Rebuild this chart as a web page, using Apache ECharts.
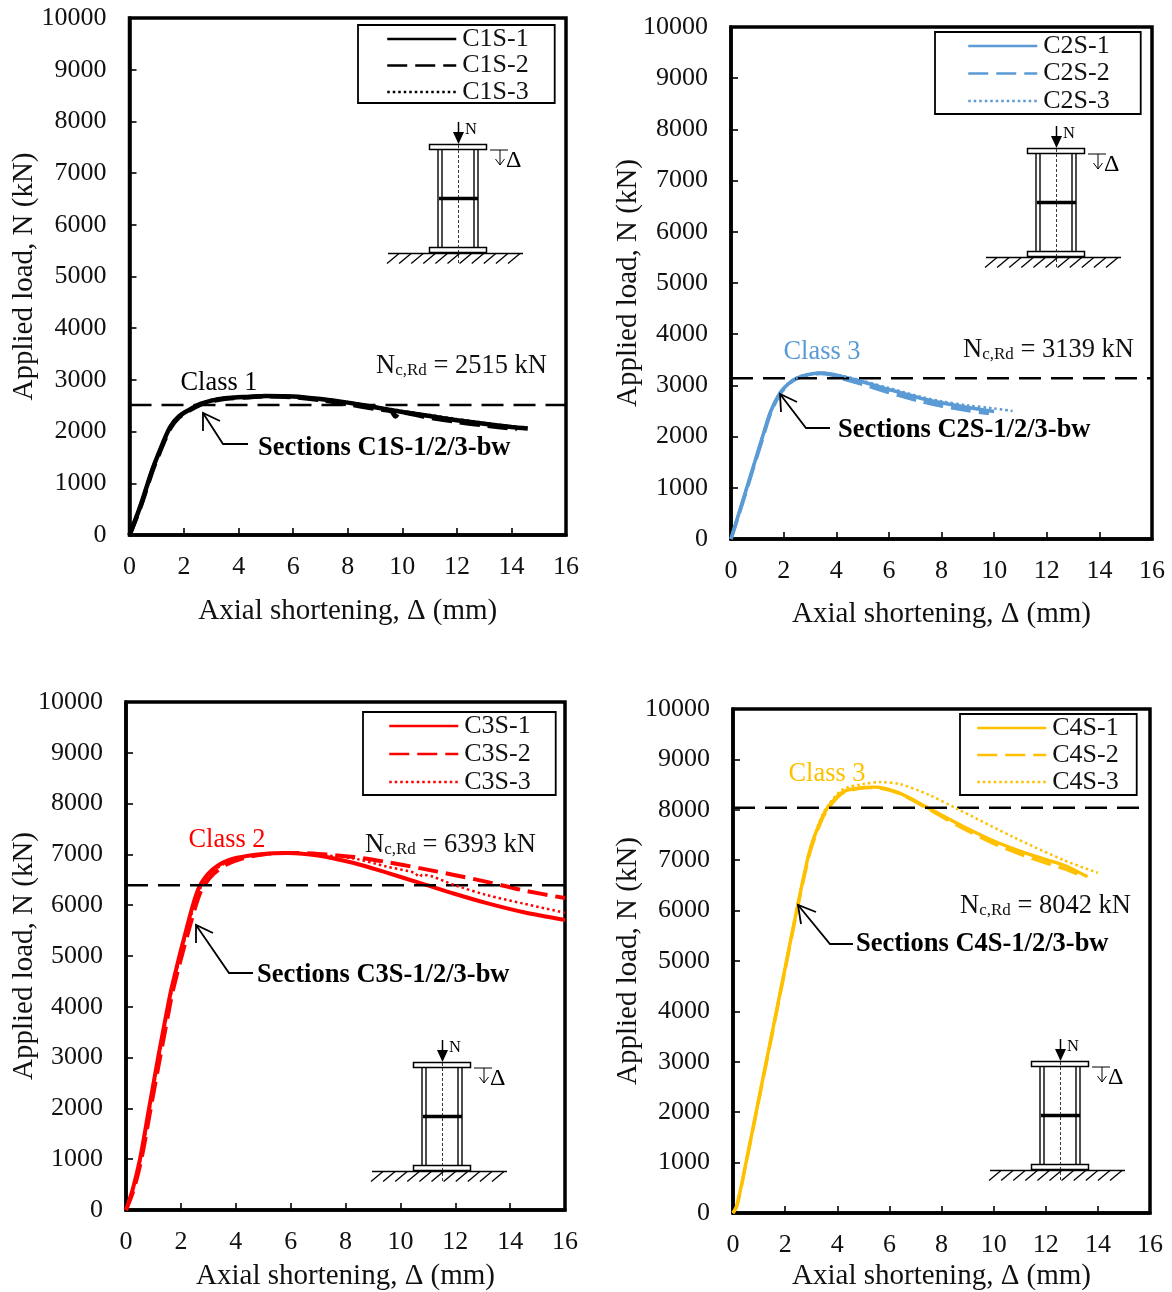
<!DOCTYPE html>
<html><head><meta charset="utf-8">
<style>html,body{margin:0;padding:0;background:#fff}#c{width:1172px;height:1292px}</style>
<script src="https://cdn.jsdelivr.net/npm/echarts@6/dist/echarts.min.js"></script>
</head><body><div id="c"></div>
<script>
const xTicks=[0,2,4,6,8,10,12,14,16];
const yTicks=[0,1000,2000,3000,4000,5000,6000,7000,8000,9000,10000];
const c1s1=[[0,0],[0.4,560],[0.82,1240],[1.1,1620],[1.48,2080],[1.8,2290],[2.2,2425],[2.6,2535],[3,2600],[3.5,2645],[4.4,2675],[5,2690],[6,2680],[7,2630],[8,2560],[9,2470],[10,2380],[11,2300],[12,2220],[13,2150],[14,2090],[14.6,2060]];
const c1s2=[[0,0],[0.4,540],[0.82,1210],[1.1,1590],[1.48,2050],[1.8,2270],[2.2,2410],[2.6,2520],[3,2590],[3.5,2635],[4.4,2665],[5,2685],[6,2665],[7,2610],[8,2530],[9,2440],[9.6,2390],[9.75,2290],[9.9,2370],[11,2270],[12,2190],[13,2120],[14.2,2050]];
const c1s3=[[0,0],[0.4,570],[0.82,1250],[1.1,1630],[1.48,2090],[1.8,2300],[2.2,2435],[2.6,2545],[3,2610],[3.5,2655],[4.4,2680],[5,2695],[6,2685],[7,2640],[8,2570],[9,2485],[10,2400],[11,2320],[12,2240],[13,2170],[14,2100]];
const c2s1=[[0,0],[0.3,500],[0.6,1000],[0.9,1500],[1.2,2000],[1.5,2480],[1.86,2850],[2.2,3040],[2.5,3140],[2.9,3210],[3.4,3240],[3.8,3220],[4.25,3170],[5,3070],[6,2920],[7.2,2750],[8,2660],[9,2570],[10,2490]];
const c2s2=[[0,0],[0.3,480],[0.6,970],[0.9,1470],[1.2,1960],[1.5,2450],[1.86,2830],[2.2,3030],[2.5,3130],[2.9,3200],[3.4,3235],[3.8,3210],[4.25,3130],[5,3020],[6,2860],[7.2,2690],[8,2600],[9,2510],[9.8,2450]];
const c2s3=[[0,0],[0.3,510],[0.6,1010],[0.9,1510],[1.2,2010],[1.5,2490],[1.86,2860],[2.2,3050],[2.5,3150],[2.9,3220],[3.4,3245],[3.8,3230],[4.25,3185],[5,3090],[6,2950],[7.2,2780],[8,2690],[9,2610],[10,2550],[10.7,2500]];
const c3s1=[[0,0],[0.25,420],[0.51,1000],[0.84,2000],[1.17,3000],[1.45,3800],[1.67,4390],[2.26,5650],[2.62,6300],[3,6620],[3.5,6830],[4,6930],[5,7010],[5.9,7030],[7,6980],[8.3,6830],[9.5,6640],[10.7,6440],[12,6220],[13.15,6040],[14.5,5860],[16,5710]];
const c3s2=[[0,0],[0.28,400],[0.56,1000],[0.9,2000],[1.24,3000],[1.52,3800],[1.74,4390],[2.36,5650],[2.75,6300],[3.2,6620],[3.7,6810],[4.3,6930],[5,7000],[5.9,7030],[7,7010],[8.3,6950],[9.5,6850],[10.7,6730],[12,6590],[13.15,6460],[14.5,6290],[16,6140]];
const c3s3=[[0,0],[0.26,410],[0.53,1000],[0.87,2000],[1.2,3000],[1.48,3800],[1.7,4390],[2.3,5650],[2.68,6300],[3.1,6630],[3.6,6820],[4.1,6930],[5,7005],[5.9,7030],[7,6990],[8.3,6920],[9.5,6760],[10.5,6640],[10.7,6560],[10.8,6600],[12,6390],[13.15,6200],[14.5,6030],[16,5850]];
const c4s1=[[0,0],[0.15,150],[0.5,1000],[1,2290],[1.5,3575],[2,4860],[2.5,6150],[2.95,7200],[3.3,7700],[3.6,8020],[4.2,8350],[4.8,8430],[5.4,8450],[6.3,8350],[7.55,8020],[8.8,7680],[10.1,7360],[11.4,7110],[12.7,6900],[13.6,6670]];
const c4s2=[[0,0],[0.15,140],[0.5,990],[1,2270],[1.5,3550],[2,4840],[2.5,6120],[2.95,7150],[3.3,7670],[3.6,7990],[4.2,8330],[4.8,8420],[5.4,8440],[6.3,8340],[7.55,8000],[8.8,7640],[10.1,7310],[11.4,7050],[12.7,6830],[13.4,6690]];
const c4s3=[[0,0],[0.15,160],[0.5,1010],[1,2300],[1.5,3590],[2,4880],[2.5,6170],[2.95,7220],[3.3,7740],[3.6,8050],[4.2,8400],[5,8510],[5.65,8550],[6.4,8510],[7.5,8300],[8.6,8020],[10.75,7460],[12.7,7000],[14,6750]];
const resistance=[2515,3139,6393,8042];
const names=[['C1S-1','C1S-2','C1S-3'],['C2S-1','C2S-2','C2S-3'],['C3S-1','C3S-2','C3S-3'],['C4S-1','C4S-2','C4S-3']];
const curves=[[c1s1,c1s2,c1s3],[c2s1,c2s2,c2s3],[c3s1,c3s2,c3s3],[c4s1,c4s2,c4s3]];
const colors=['#000000','#5B9BD5','#FF0000','#FFC000'];
const classes=['Class 1','Class 3','Class 2','Class 3'];
const sections=['Sections C1S-1/2/3-bw','Sections C2S-1/2/3-bw','Sections C3S-1/2/3-bw','Sections C4S-1/2/3-bw'];

const FF='"Liberation Serif","Times New Roman",serif';
const FS=26;
const grids=[{left:129.5,top:18,width:436.5,height:517},{left:731,top:27,width:421,height:512},{left:126,top:702,width:439,height:508},{left:733,top:709,width:417,height:504}];
const xGap=[62,61,52,49], yGap=[91,88.5,87.5,90.5];
const legendBox=[{l:358,t:25,r:555,b:103,step:26.5,pb:-2},{l:935,t:32,r:1141,b:114,step:27.5,pb:0},{l:363,t:712,r:556,b:795,step:28,pb:0},{l:960,t:714,r:1137,b:794,step:27,pb:0}];
const legendInset=[28,32,25,16];
const lineWidth=[4.5,3.6,4,3.4];
const classPos=[[219,383],[822,352],[227,840],[827,774]];
const nPos=[[376,366],[963,350],[365,845],[960,906]];
const secPos=[[258,448.5],[838,430.5],[257,975.5],[856,944.5]];
const arrows=[{t:[203,413],a:[203,431],b:[220,421],e:[223,444],f:[248,444]},{t:[780,394],a:[781,412],b:[797,402],e:[806,428],f:[830,428]},{t:[196,925],a:[196,943],b:[213,933],e:[229,973],f:[253,973]},{t:[798,905],a:[801,924],b:[816,912],e:[830,944],f:[853,944]}];
const schem=[[0,0],[598,4],[-16,918],[602,917]];
const dashes=[null,[20,8],[2.5,3]];

const option={animation:false,backgroundColor:'#fff',grid:[],xAxis:[],yAxis:[],series:[],legend:[],graphic:[]};
const g=option.graphic;
function line(pts,w,extra){g.push(Object.assign({type:'polyline',silent:true,z:20,shape:{points:pts},style:{stroke:'#000',lineWidth:w,fill:null}},extra||{}));}
function rect(x,y,w,h,lw,fill){g.push({type:'rect',silent:true,z:20,shape:{x,y,width:w,height:h},style:{stroke:'#000',lineWidth:lw,fill:fill||'#fff'}});}
function text(x,y,s,style){g.push({type:'text',silent:true,z:21,x,y,style:Object.assign({text:s,fontFamily:FF,fontSize:26.4,fill:'#000',verticalAlign:'middle',align:'left'},style||{})});}

grids.forEach((gr,i)=>{
  option.grid.push(Object.assign({show:true,borderColor:'#000',borderWidth:3.5,backgroundColor:'transparent',containLabel:false},gr));
  option.xAxis.push({type:'value',gridIndex:i,min:0,max:16,interval:2,
    name:'Axial shortening, Δ (mm)',nameLocation:'middle',nameGap:xGap[i],nameMoveOverlap:false,
    nameTextStyle:{fontFamily:FF,fontSize:29,color:'#111'},
    axisLine:{show:true,onZero:false,lineStyle:{color:'#000',width:3.5}},
    axisTick:{show:true,inside:true,length:7,lineStyle:{color:'#000',width:1.6}},
    axisLabel:{margin:19.5,fontFamily:FF,fontSize:FS,color:'#111',showMinLabel:true,showMaxLabel:true,formatter:v=>String(v)},
    splitLine:{show:false}});
  option.yAxis.push({type:'value',gridIndex:i,min:0,max:10000,interval:1000,
    name:'Applied load, N (kN)',nameLocation:'middle',nameGap:yGap[i],nameMoveOverlap:false,
    nameTextStyle:{fontFamily:FF,fontSize:29,color:'#111'},
    axisLine:{show:true,onZero:false,lineStyle:{color:'#000',width:3.5}},
    axisTick:{show:true,inside:true,length:7,lineStyle:{color:'#000',width:1.6}},
    axisLabel:{margin:23,fontFamily:FF,fontSize:FS,color:'#111',showMinLabel:true,showMaxLabel:true,formatter:v=>String(v)},
    splitLine:{show:false}});
  option.series.push({type:'line',name:'Nc,Rd '+i,xAxisIndex:i,yAxisIndex:i,showSymbol:false,silent:true,z:5,
    data:[[0,resistance[i]],[16,resistance[i]]],lineStyle:{color:'#000',width:2.4,type:[22,10]}});
  names[i].forEach((nm,k)=>{
    option.series.push({type:'line',name:nm,xAxisIndex:i,yAxisIndex:i,showSymbol:false,symbol:'none',smooth:0.3,z:3+k,
      data:curves[i][k],itemStyle:{color:colors[i]},
      lineStyle:{color:colors[i],width:k===2?2.5:lineWidth[i],type:dashes[k]||'solid'}});
  });
  const b=legendBox[i];
  option.legend.push({show:true,orient:'vertical',left:b.l,top:b.t,width:b.r-b.l,
    data:names[i],itemWidth:69,itemHeight:20,itemGap:b.step-26,selectedMode:false,
    itemStyle:{opacity:0},
    lineStyle:{width:2.5},
    padding:[1,b.r-b.l-legendInset[i]-69-74,b.pb,legendInset[i]],
    borderColor:'#000',borderWidth:1.8,backgroundColor:'#fff',
    textStyle:{fontFamily:FF,fontSize:FS,color:'#111',padding:[0,0,0,1]}});
  // annotations
  text(classPos[i][0],classPos[i][1],classes[i],{align:'center',fill:colors[i]});
  g.push({type:'text',silent:true,z:21,x:nPos[i][0],y:nPos[i][1],style:{
    rich:{a:{fontFamily:FF,fontSize:26.5,fill:'#111'},s:{fontFamily:FF,fontSize:17,fill:'#111',verticalAlign:'bottom',padding:[10,0,0,0]}},
    text:'{a|N}{s|c,Rd}{a| = '+resistance[i]+' kN}',verticalAlign:'middle',align:'left'}});
  text(secPos[i][0],secPos[i][1],sections[i],{fontWeight:'bold',fontSize:26.5,fill:'#000'});
  const a=arrows[i];
  line([a.a,a.t,a.b],1.8);
  line([a.t,a.e,a.f],1.8);
  // column schematic
  const d=schem[i],X=v=>v+d[0],Y=v=>v+d[1];
  rect(X(429.5),Y(144.5),57,5,1.5);
  rect(X(429.5),Y(247.5),57,5,1.5);
  [438,442,474,478].forEach(v=>line([[X(v),Y(149)],[X(v),Y(247)]],1.4));
  line([[X(439),Y(198.5)],[X(478),Y(198.5)]],3.4);
  line([[X(458.5),Y(130)],[X(458.5),Y(264)]],0.9,{style:{stroke:'#222',lineWidth:0.9,lineDash:[3,2],fill:null}});
  line([[X(458.5),Y(122)],[X(458.5),Y(134)]],1.5);
  g.push({type:'polygon',silent:true,z:21,shape:{points:[[X(453),Y(132)],[X(464),Y(132)],[X(458.5),Y(144)]]},style:{fill:'#000'}});
  line([[X(388),Y(253.5)],[X(523),Y(253.5)]],1.6);
  for(let h=0;h<11;h++){const x0=X(399+h*12.1);line([[x0,Y(253.5)],[x0-12,Y(263.5)]],1.3);}
  line([[X(490),Y(150)],[X(508),Y(150)]],1);
  line([[X(500),Y(150)],[X(500),Y(165)]],1);
  line([[X(495.5),Y(159)],[X(500),Y(165)],[X(504.5),Y(159)]],1);
  text(X(465),Y(130),'N',{fontSize:16.5});
  text(X(506),Y(160.5),'Δ',{fontSize:24});
});
const chart=echarts.init(document.getElementById('c'),null,{renderer:'canvas'});
chart.setOption(option);
</script></body></html>
